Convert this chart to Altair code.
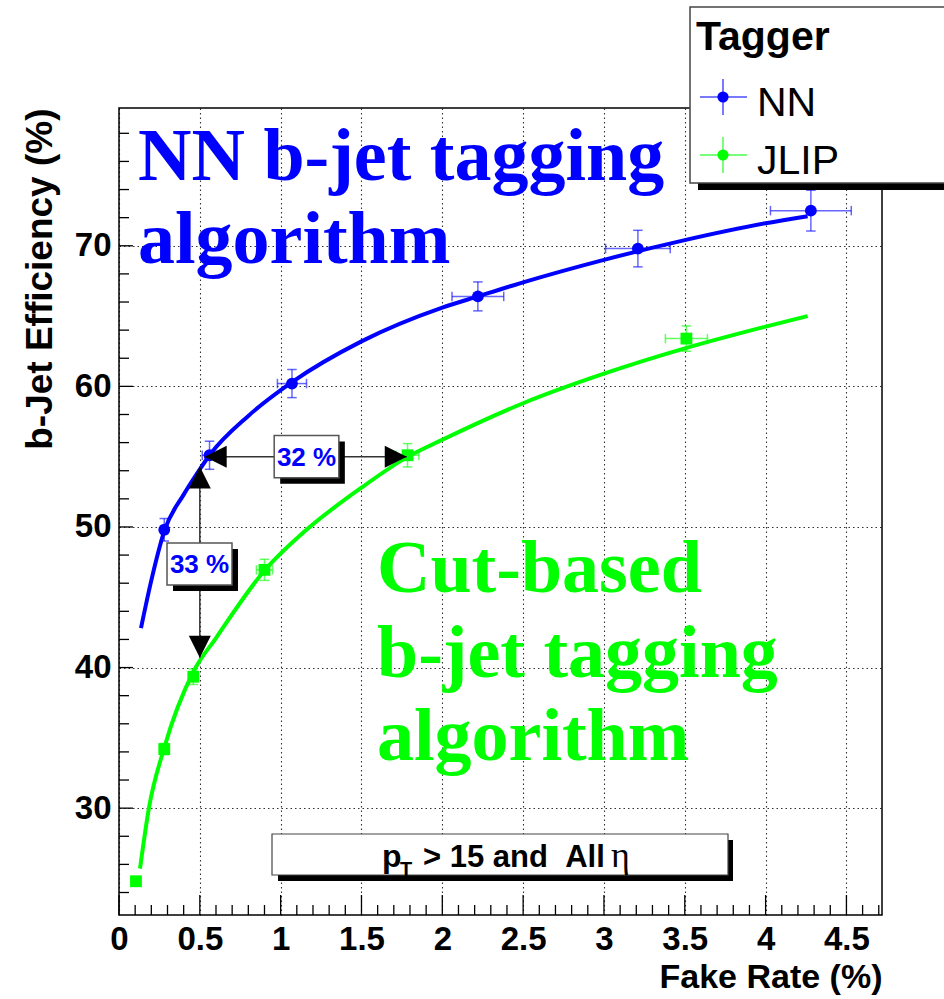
import altair as alt
import pandas as pd

# ---------------- measured tagger performance ----------------
# NN tagger: fake rate (%), b-jet efficiency (%), and their uncertainties
nn_rate = [0.28, 0.56, 1.07, 2.22, 3.21, 4.28]
nn_eff = [49.8, 55.1, 60.2, 66.4, 69.8, 72.5]
nn_rate_err = [0.02, 0.045, 0.09, 0.16, 0.20, 0.25]
nn_eff_err = [0.8, 1.0, 1.0, 1.03, 1.3, 1.45]

# JLIP (cut-based) tagger
jlip_rate = [0.105, 0.28, 0.46, 0.90, 1.785, 3.51]
jlip_eff = [24.8, 34.2, 39.35, 46.95, 55.1, 63.4]
jlip_rate_err = [0.01, 0.02, 0.03, 0.05, 0.07, 0.13]
jlip_eff_err = [0.3, 0.4, 0.55, 0.75, 0.83, 0.9]

# fitted efficiency curves
nn_fit_rate = [0.136, 0.2, 0.28, 0.4, 0.5, 0.56, 0.8, 1.07, 1.5, 2.0, 2.22, 2.5, 3.0, 3.5, 4.0, 4.26]
nn_fit_eff = [42.8, 46.2, 49.7, 52.3, 54.1, 55.1, 57.9, 60.3, 63.2, 65.6, 66.4, 67.4, 69.0, 70.4, 71.6, 72.1]
jlip_fit_rate = [0.13, 0.185, 0.28, 0.46, 0.6, 0.9, 1.14, 1.5, 1.78, 2.0, 2.5, 3.0, 3.5, 4.0, 4.26]
jlip_fit_eff = [25.7, 30.0, 34.3, 39.7, 42.1, 46.9, 49.6, 52.8, 54.95, 56.2, 58.8, 60.9, 62.7, 64.25, 65.0]

series_names = ["NN", "JLIP"]
series_colors = ["#0000ff", "#00ff00"]

# comparison arrows and their labels
gain_eff = 55.0
gain_rate = [0.53, 1.78]
gain_label = "32 %"
gain_box_rate = [0.96, 1.36]
gain_box_eff = [53.5, 56.5]

drop_rate = 0.5
drop_eff = [40.7, 54.3]
drop_label = "33 %"
drop_box_rate = [0.297, 0.699]
drop_box_eff = [45.87, 48.86]

# axis ticks
x_major = [0, 0.5, 1, 1.5, 2, 2.5, 3, 3.5, 4, 4.5]
x_minor = [round(i * 0.1, 1) for i in range(1, 48) if i % 5]
y_major = [30, 40, 50, 60, 70]
y_minor = [v for v in range(24, 80, 2) if v % 10]

W, H = 763, 807
SANS = "Liberation Sans"
SERIF = "Liberation Serif"

xs = alt.Scale(domain=[0, 4.72], nice=False, zero=False)
ys = alt.Scale(domain=[22.4, 79.8], nice=False, zero=False)

grid_style = dict(grid=True, gridColor="#333", gridDash=[1.5, 3], gridWidth=1.1)

x_axis = alt.Axis(
    values=x_major, format="~g", **grid_style,
    ticks=False, tickSize=0, domain=False, labelFlush=False, labelOverlap=False,
    labelFont=SANS, labelFontSize=33, labelFontWeight="bold", labelColor="black", labelPadding=8,
    title="Fake Rate (%)", titleFont=SANS, titleFontSize=34, titleFontWeight="bold",
    titleColor="black", titleAnchor="end", titleAlign="right", titleBaseline="middle",
    titleX=W, titleY=62,
)
y_axis = alt.Axis(
    values=y_major, **grid_style,
    ticks=False, tickSize=0, domain=False, labelFlush=False, labelOverlap=False,
    labelFont=SANS, labelFontSize=33, labelFontWeight="bold", labelColor="black", labelPadding=8,
    title="b-Jet Efficiency (%)", titleFont=SANS, titleFontSize=37, titleFontWeight="bold",
    titleColor="black", titleAngle=270, titleAlign="right", titleBaseline="middle",
    titleX=-79, titleY=0,
)


def X(field, **kw):
    return alt.X(field, type="quantitative", scale=xs, axis=x_axis, **kw)


def Y(field, **kw):
    return alt.Y(field, type="quantitative", scale=ys, axis=y_axis, **kw)


color = alt.Color("series:N", scale=alt.Scale(domain=series_names, range=series_colors), legend=None)

pts = pd.concat([
    pd.DataFrame({"series": "NN", "rate": nn_rate, "eff": nn_eff,
                  "rate_err": nn_rate_err, "eff_err": nn_eff_err}),
    pd.DataFrame({"series": "JLIP", "rate": jlip_rate, "eff": jlip_eff,
                  "rate_err": jlip_rate_err, "eff_err": jlip_eff_err}),
], ignore_index=True)
pts["rate_lo"] = pts.rate - pts.rate_err
pts["rate_hi"] = pts.rate + pts.rate_err
pts["eff_lo"] = pts.eff - pts.eff_err
pts["eff_hi"] = pts.eff + pts.eff_err

fits = pd.concat([
    pd.DataFrame({"series": "NN", "rate": nn_fit_rate, "eff": nn_fit_eff}),
    pd.DataFrame({"series": "JLIP", "rate": jlip_fit_rate, "eff": jlip_fit_eff}),
], ignore_index=True)

one = pd.DataFrame({"k": [0]})

# ---------------- axes, grid and ticks ----------------
grid = alt.Chart(pd.DataFrame({"rate": [0.0], "eff": [50.0]})).mark_point(opacity=0).encode(
    x=X("rate"), y=Y("eff"))

xt_major = alt.Chart(pd.DataFrame({"v": x_major})).mark_rule(color="black", strokeWidth=1.3).encode(
    x=X("v"), y=alt.value(H), y2=alt.value(H - 20))
xt_minor = alt.Chart(pd.DataFrame({"v": x_minor})).mark_rule(color="black", strokeWidth=1.3).encode(
    x=X("v"), y=alt.value(H), y2=alt.value(H - 10))
yt_major = alt.Chart(pd.DataFrame({"v": y_major})).mark_rule(color="black", strokeWidth=1.3).encode(
    y=Y("v"), x=alt.value(0), x2=alt.value(14))
yt_minor = alt.Chart(pd.DataFrame({"v": y_minor})).mark_rule(color="black", strokeWidth=1.3).encode(
    y=Y("v"), x=alt.value(0), x2=alt.value(10))

frame = alt.Chart(one).mark_rect(fillOpacity=0, stroke="black", strokeWidth=1.5).encode(
    x=alt.value(0), x2=alt.value(W), y=alt.value(0), y2=alt.value(H))

# ---------------- big labels ----------------
def label(text, x, y, size, colour, font, weight="bold", align="left"):
    return alt.Chart(one).mark_text(
        font=font, fontSize=size, fontWeight=weight, color=colour, align=align, baseline="alphabetic"
    ).encode(x=alt.value(x), y=alt.value(y), text=alt.value(text))


nn_title = [
    label("NN b-jet tagging", 19, 72, 74, "#0000ff", SERIF),
    label("algorithm", 19, 155, 74, "#0000ff", SERIF),
]
jlip_title = [
    label("Cut-based", 258, 484, 74, "#00ff00", SERIF),
    label("b-jet tagging", 258, 569, 74, "#00ff00", SERIF),
    label("algorithm", 258, 652, 74, "#00ff00", SERIF),
]

# ---------------- data: curves, error bars, markers ----------------
curves = alt.Chart(fits).mark_line(strokeWidth=4, interpolate="monotone").encode(
    x=X("rate"), y=Y("eff"), color=color, detail="series:N")

err_style = dict(strokeWidth=1.5, opacity=0.6)
xerr = alt.Chart(pts).mark_rule(**err_style).encode(
    x=X("rate_lo"), x2="rate_hi", y=Y("eff"), color=color)
yerr = alt.Chart(pts).mark_rule(**err_style).encode(
    x=X("rate"), y=Y("eff_lo"), y2="eff_hi", color=color)
ycaps = alt.Chart(pts).transform_fold(["eff_lo", "eff_hi"], as_=["end", "cap"]).mark_point(
    shape="M -1 0 L 1 0", size=90, filled=False, **err_style).encode(
    x=X("rate"), y=Y("cap:Q"), color=color)
xcaps = alt.Chart(pts).transform_fold(["rate_lo", "rate_hi"], as_=["end", "cap"]).mark_point(
    shape="M 0 -1 L 0 1", size=90, filled=False, **err_style).encode(
    x=X("cap:Q"), y=Y("eff"), color=color)

markers = alt.Chart(pts).mark_point(filled=True, opacity=1, size=140).encode(
    x=X("rate"), y=Y("eff"), color=color,
    shape=alt.Shape("series:N", scale=alt.Scale(domain=series_names, range=["circle", "square"]),
                    legend=None))

# ---------------- comparison arrows ----------------
arrow_col = "#333333"
h_arrow = alt.Chart(pd.DataFrame({"a": [gain_rate[0]], "b": [gain_rate[1]], "e": [gain_eff]})).mark_rule(
    color=arrow_col, strokeWidth=1.5).encode(x=X("a"), x2="b", y=Y("e"))
v_arrow = alt.Chart(pd.DataFrame({"r": [drop_rate], "a": [drop_eff[0]], "b": [drop_eff[1]]})).mark_rule(
    color=arrow_col, strokeWidth=1.5).encode(x=X("r"), y=Y("a"), y2="b")


def head(rate, eff, path):
    return alt.Chart(pd.DataFrame({"rate": [rate], "eff": [eff]})).mark_point(
        shape=path, size=484, filled=True, color="black", opacity=1).encode(x=X("rate"), y=Y("eff"))


heads = [
    head(gain_rate[0], gain_eff, "M 0 0 L 2 -1 L 2 1 Z"),
    head(gain_rate[1], gain_eff, "M 0 0 L -2 -1 L -2 1 Z"),
    head(drop_rate, drop_eff[1], "M 0 0 L -1 2 L 1 2 Z"),
    head(drop_rate, drop_eff[0], "M 0 0 L -1 -2 L 1 -2 Z"),
]


def boxed(rates, effs, text):
    d = pd.DataFrame({"r0": [rates[0]], "r1": [rates[1]], "e0": [effs[0]], "e1": [effs[1]],
                      "rc": [(rates[0] + rates[1]) / 2], "ec": [(effs[0] + effs[1]) / 2]})
    shadow = alt.Chart(d).mark_rect(color="black", xOffset=6, x2Offset=6, yOffset=6, y2Offset=6).encode(
        x=X("r0"), x2="r1", y=Y("e0"), y2="e1")
    box = alt.Chart(d).mark_rect(fill="white", stroke="#555555", strokeWidth=1.5).encode(
        x=X("r0"), x2="r1", y=Y("e0"), y2="e1")
    txt = alt.Chart(d).mark_text(font=SANS, fontSize=26, fontWeight="bold", color="#0000ff",
                                 baseline="middle", align="center", dy=1).encode(
        x=X("rc"), y=Y("ec"), text=alt.value(text))
    return [shadow, box, txt]


# ---------------- kinematic selection box ----------------
sel = [
    alt.Chart(one).mark_rect(color="black").encode(
        x=alt.value(159), x2=alt.value(614), y=alt.value(732), y2=alt.value(773)),
    alt.Chart(one).mark_rect(fill="white", stroke="#444444", strokeWidth=1.2).encode(
        x=alt.value(153), x2=alt.value(609), y=alt.value(726), y2=alt.value(767)),
    label("p", 263, 759, 32, "black", SANS),
    label("T", 281, 768, 20, "black", SANS),
    label("> 15 and\u00a0\u00a0All", 304, 759, 31, "black", SANS),
    label("\u03b7", 492, 759, 36, "black", SERIF, weight="normal"),
]

# ---------------- legend ----------------
leg = [
    alt.Chart(one).mark_rect(color="black").encode(
        x=alt.value(579), x2=alt.value(900), y=alt.value(-94), y2=alt.value(82)),
    alt.Chart(one).mark_rect(fill="white", stroke="#444444", strokeWidth=1.5).encode(
        x=alt.value(571), x2=alt.value(890), y=alt.value(-101), y2=alt.value(75)),
    label("Tagger", 577, -58, 41, "black", SANS),
]
for name, colour, yy in [("NN", "#0000ff", -11), ("JLIP", "#00ff00", 47)]:
    leg += [
        alt.Chart(one).mark_rule(color=colour, strokeWidth=1.5, opacity=0.7).encode(
            x=alt.value(581), x2=alt.value(628), y=alt.value(yy)),
        alt.Chart(one).mark_rule(color=colour, strokeWidth=1.5, opacity=0.7).encode(
            x=alt.value(604), y=alt.value(yy - 18), y2=alt.value(yy + 18)),
        alt.Chart(one).mark_point(shape="circle", size=125, filled=True, color=colour, opacity=1).encode(
            x=alt.value(604), y=alt.value(yy)),
        label(name, 638, yy + 19, 41, "black", SANS, weight="normal"),
    ]

layers = (
    [grid, xt_major, xt_minor, yt_major, yt_minor]
    + nn_title + jlip_title
    + [curves, xerr, yerr, ycaps, xcaps, markers, h_arrow, v_arrow]
    + heads
    + boxed(gain_box_rate, gain_box_eff, gain_label)
    + boxed(drop_box_rate, drop_box_eff, drop_label)
    + sel
    + [frame]
    + leg
)

chart = alt.layer(*layers).properties(
    width=W, height=H,
    padding={"left": 119, "top": 108, "right": 62, "bottom": 84},
    autosize=alt.AutoSizeParams(type="none"),
    background="white",
).configure_view(stroke=None)

chart.save("out.html", embed_options={"renderer": "svg", "actions": False})
